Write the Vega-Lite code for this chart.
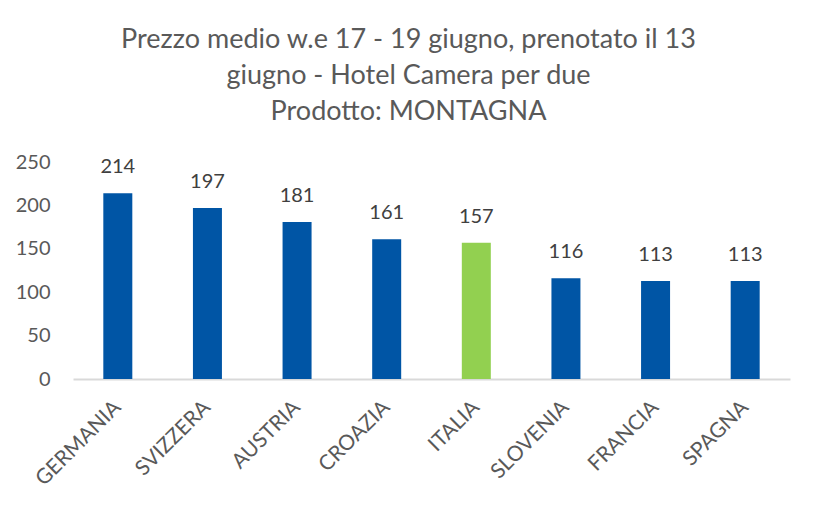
{
  "$schema": "https://vega.github.io/schema/vega-lite/v6.json",
  "width": 717,
  "height": 217,
  "autosize": "none",
  "padding": {"left": 73, "top": 162, "right": 31, "bottom": 126},
  "background": "white",
  "title": {
    "text": ["Prezzo medio w.e 17 - 19 giugno, prenotato il 13", "giugno  - Hotel Camera per due", "Prodotto: MONTAGNA"],
    "anchor": "middle",
    "frame": "group",
    "dx": -23,
    "offset": 26,
    "font": "Lato",
    "fontSize": 27,
    "fontWeight": "normal",
    "color": "#595959",
    "lineHeight": 36
  },
  "data": {
    "values": [
      {"paese": "GERMANIA", "prezzo": 214},
      {"paese": "SVIZZERA", "prezzo": 197},
      {"paese": "AUSTRIA", "prezzo": 181},
      {"paese": "CROAZIA", "prezzo": 161},
      {"paese": "ITALIA", "prezzo": 157},
      {"paese": "SLOVENIA", "prezzo": 116},
      {"paese": "FRANCIA", "prezzo": 113},
      {"paese": "SPAGNA", "prezzo": 113}
    ]
  },
  "encoding": {
    "x": {
      "field": "paese",
      "type": "nominal",
      "sort": null,
      "scale": {"paddingInner": 0, "paddingOuter": 0},
      "axis": {
        "title": null,
        "labelAngle": -45,
        "labelAlign": "right",
        "labelBaseline": "middle",
        "labelFont": "Lato",
        "labelFontSize": 21,
        "labelColor": "#595959",
        "labelPadding": 25,
        "ticks": false,
        "domainColor": "#D9D9D9",
        "domainWidth": 2,
        "grid": false
      }
    },
    "y": {
      "field": "prezzo",
      "type": "quantitative",
      "scale": {"domain": [0, 250], "nice": false},
      "axis": {
        "title": null,
        "values": [0, 50, 100, 150, 200, 250],
        "labelFont": "Lato",
        "labelFontSize": 20,
        "labelColor": "#595959",
        "labelPadding": 23,
        "ticks": false,
        "domain": false,
        "grid": false
      }
    }
  },
  "layer": [
    {
      "mark": {"type": "bar", "size": 29},
      "encoding": {
        "color": {
          "condition": {"test": "datum.paese === 'ITALIA'", "value": "#92D050"},
          "value": "#0055A5"
        }
      }
    },
    {
      "mark": {"type": "text", "baseline": "bottom", "dy": -16, "font": "Lato", "fontSize": 20, "color": "#404040"},
      "encoding": {"text": {"field": "prezzo", "type": "quantitative"}}
    }
  ],
  "config": {"view": {"stroke": null}}
}
